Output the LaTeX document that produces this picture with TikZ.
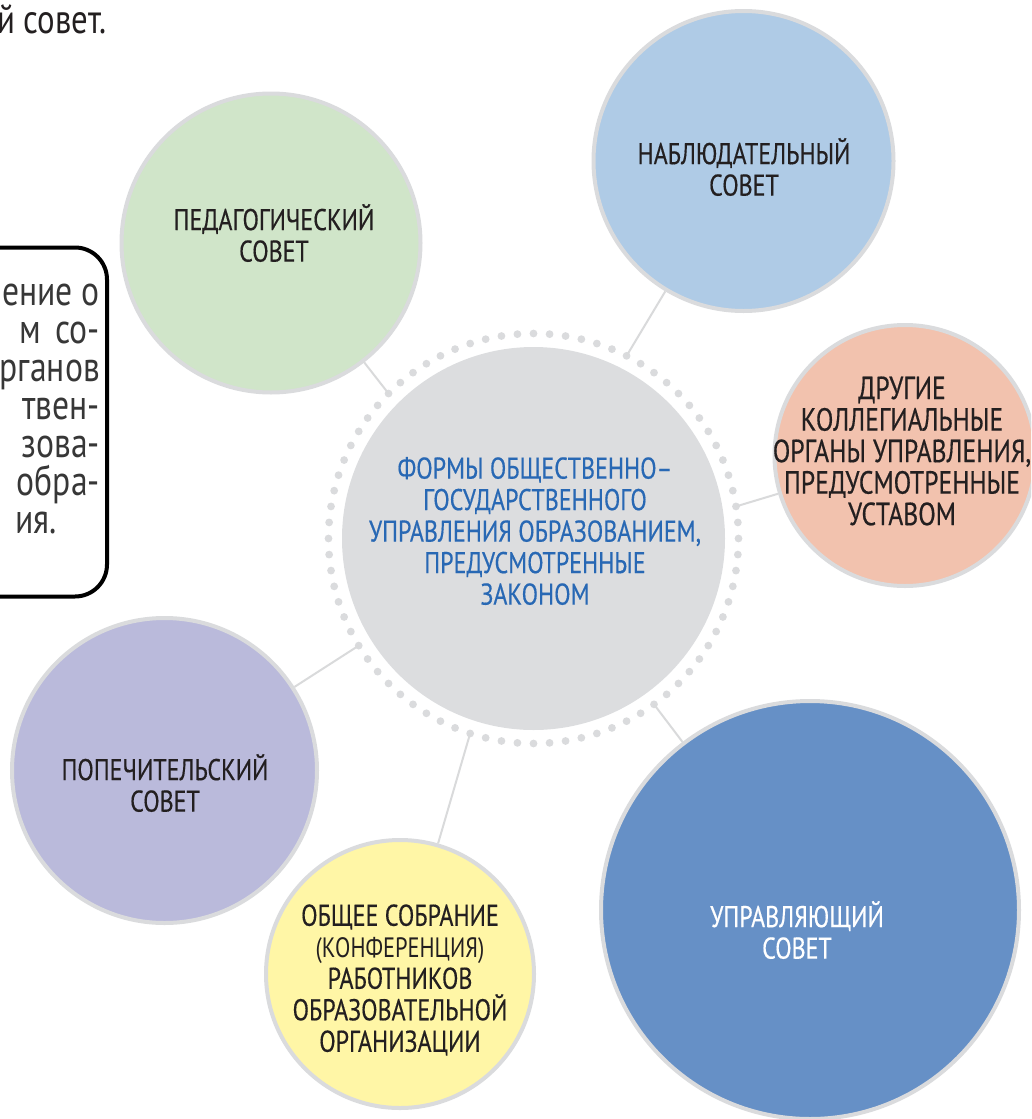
\documentclass[tikz,border=0pt]{standalone}
\usepackage{fontspec}
\setmainfont[FakeStretch=0.8]{PT Sans}
\newfontfamily\lblfont[FakeStretch=0.8,FakeBold=0.4]{PT Sans}
\usetikzlibrary{calc}
\definecolor{cgreen}{RGB}{208,229,201}
\definecolor{clblue}{RGB}{175,203,230}
\definecolor{corange}{RGB}{242,194,174}
\definecolor{cpurple}{RGB}{186,186,219}
\definecolor{cyellow}{RGB}{255,246,166}
\definecolor{cdblue}{RGB}{102,144,198}
\definecolor{ccore}{RGB}{220,221,223}
\definecolor{crim}{RGB}{218,219,221}
\definecolor{cline}{RGB}{217,218,219}
\definecolor{ctxt}{RGB}{35,31,32}
\definecolor{cbluetxt}{RGB}{40,104,180}
\definecolor{cnote}{RGB}{55,55,55}
\begin{document}
\begin{tikzpicture}[x=1pt,y=-1pt,
  bubble/.style={circle, fill=#1, draw=crim, line width=4pt, inner sep=0pt},
  lbl/.style={align=center, inner sep=0pt, text=ctxt, font=\lblfont\fontsize{30}{31.5}\selectfont},
  notetxt/.style={inner sep=0pt, text=cnote, font=\fontsize{42}{38}\selectfont, anchor=base east},
  conn/.style={draw=cline, line width=2pt},
  ringdot/.style={fill=crim}]
\useasboundingbox (0,0) rectangle (1031,1119);
\clip (0,0) rectangle (1031,1119);

% top text fragment
\node[inner sep=0pt, anchor=base west, text=ctxt, font=\fontsize{41}{40}\selectfont] (toptxt) at (-3,33) {й совет.};

% note box
\node[draw=black, line width=4pt, rounded corners=32pt, minimum width=420pt, minimum height=349pt, anchor=east, inner sep=0pt] (note) at (109,422) {};
\node[notetxt] (n1) at (100,305) {ение о};
\node[notetxt] (n2) at (100,343) {м\hspace{14pt}со-};
\node[notetxt] (n3) at (100,381) {рганов};
\node[notetxt] (n4) at (100,419) {твен-};
\node[notetxt] (n5) at (100,457) {зова-};
\node[notetxt] (n6) at (100,495) {обра-};
\node[notetxt] (n7) at (57,533) {ия.};

% central circle and dotted ring
\node[circle, fill=ccore, minimum size=383pt, inner sep=0pt] (core) at (533.5,538.5) {};
\foreach \a in {0,4.5,...,355.5}
  \fill[ringdot] ($(core.center)+(\a:205)$) circle (3.9pt);
\coordinate (dped) at ($(core.center)+(225:205)$);
\coordinate (dnab) at ($(core.center)+(297:205)$);
\coordinate (ddr)  at ($(core.center)+(351:205)$);
\coordinate (dpop) at ($(core.center)+(148.5:205)$);
\coordinate (dobs) at ($(core.center)+(108:205)$);
\coordinate (dupr) at ($(core.center)+(54:205)$);

% bubbles
\node[bubble=cgreen, minimum size=299pt] (ped) at (271,243) {};
\node[bubble=clblue, minimum size=300pt] (nab) at (743.5,161) {};
\node[bubble=corange, minimum size=261pt] (dr) at (905,455.5) {};
\node[bubble=cpurple, minimum size=305pt] (pop) at (164.5,770.5) {};
\node[bubble=cyellow, minimum size=268pt] (obs) at (400,974) {};
\node[bubble=cdblue, minimum size=418pt] (upr) at (810,910) {};

% connectors
\draw[conn] (dped) -- (ped);
\draw[conn] (dnab) -- (nab);
\draw[conn] (ddr) -- (dr);
\draw[conn] (dpop) -- (pop);
\draw[conn] (dobs) -- (obs);
\draw[conn] (dupr) -- (upr);

% labels
\node[lbl, text=cbluetxt] (coretxt) at (535,531) {ФОРМЫ ОБЩЕСТВЕННО–\\ГОСУДАРСТВЕННОГО\\УПРАВЛЕНИЯ ОБРАЗОВАНИЕМ,\\ПРЕДУСМОТРЕННЫЕ\\ЗАКОНОМ};
\node[lbl] (pedtxt) at (274,233) {ПЕДАГОГИЧЕСКИЙ\\СОВЕТ};
\node[lbl] (nabtxt) at (744,167) {НАБЛЮДАТЕЛЬНЫЙ\\СОВЕТ};
\node[lbl, font=\lblfont\fontsize{32}{31.5}\selectfont] (drtxt) at (902,451) {ДРУГИЕ\\КОЛЛЕГИАЛЬНЫЕ\\ОРГАНЫ УПРАВЛЕНИЯ,\\ПРЕДУСМОТРЕННЫЕ\\УСТАВОМ};
\node[lbl] (poptxt) at (165,783) {ПОПЕЧИТЕЛЬСКИЙ\\СОВЕТ};
\node[lbl] (obstxt) at (400,980) {ОБЩЕЕ СОБРАНИЕ\\{\normalfont\fontsize{28}{31.5}\selectfont(КОНФЕРЕНЦИЯ)}\\РАБОТНИКОВ\\ОБРАЗОВАТЕЛЬНОЙ\\ОРГАНИЗАЦИИ};
\node[lbl, text=white] (uprtxt) at (797,930) {УПРАВЛЯЮЩИЙ\\СОВЕТ};
\end{tikzpicture}
\end{document}
